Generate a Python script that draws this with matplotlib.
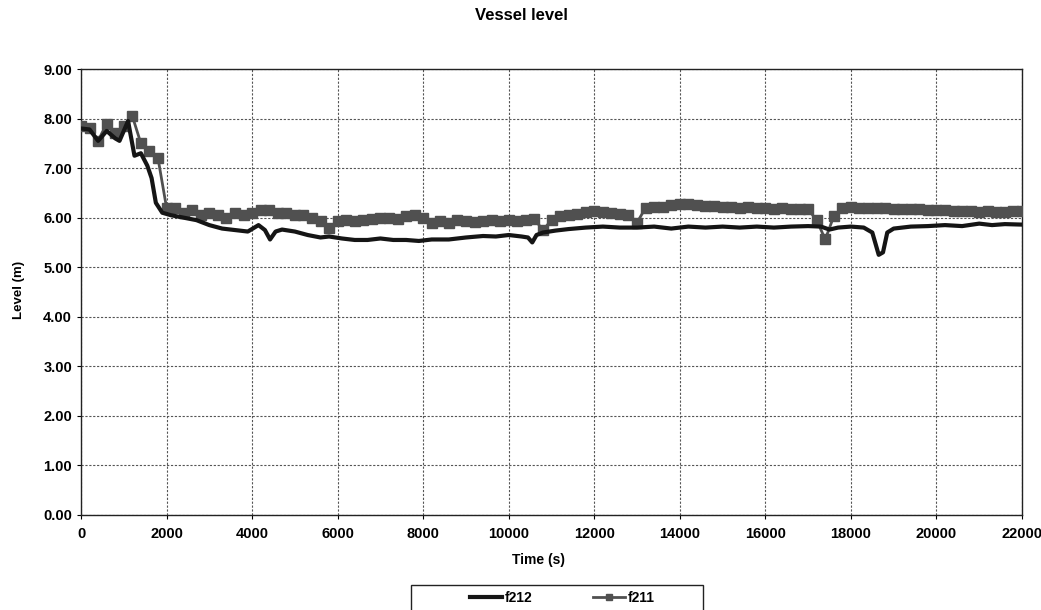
import matplotlib.pyplot as plt
import numpy as np
from matplotlib.patches import Rectangle

plt.rcParams['font.family'] = ['Liberation Sans', 'DejaVu Sans']

# f212 - solid line
t_f212 = [0, 200, 400, 600, 800, 900, 1100, 1250, 1400, 1550, 1650, 1750, 1900, 2100,
          2400, 2700, 3000, 3300, 3600, 3900, 4150, 4300, 4420, 4550, 4700, 5000, 5300,
          5600, 5800, 6100, 6400, 6700, 7000, 7300, 7600, 7900, 8200, 8600, 9000, 9400,
          9700, 10000, 10300, 10450, 10550, 10650, 10800, 11100, 11400, 11800, 12200,
          12600, 13000, 13400, 13800, 14200, 14600, 15000, 15400, 15800, 16200, 16600,
          17000, 17300, 17500, 17700, 18000, 18300, 18500, 18650, 18750, 18850, 19000,
          19400, 19800, 20200, 20600, 21000, 21300, 21600, 22000]
f212 = [7.80, 7.78, 7.55, 7.75, 7.60, 7.55, 7.95, 7.25, 7.30, 7.05, 6.80, 6.30, 6.10, 6.05,
        6.00, 5.95, 5.85, 5.78, 5.75, 5.72, 5.85, 5.75, 5.56, 5.72, 5.76, 5.72, 5.65,
        5.60, 5.62, 5.58, 5.55, 5.55, 5.58, 5.55, 5.55, 5.53, 5.56, 5.56, 5.60, 5.63,
        5.62, 5.65, 5.62, 5.60, 5.50, 5.65, 5.70, 5.74, 5.77, 5.80, 5.82,
        5.80, 5.80, 5.82, 5.78, 5.82, 5.80, 5.82, 5.80, 5.82, 5.80, 5.82,
        5.83, 5.82, 5.76, 5.80, 5.82, 5.80, 5.70, 5.25, 5.30, 5.70, 5.78,
        5.82, 5.83, 5.85, 5.83, 5.88, 5.85, 5.87, 5.86]

# f211 - line with square markers, sampled every 200 s
t_f211 = np.arange(0, 22001, 200)
f211 = [7.85, 7.80, 7.55, 7.90, 7.70, 7.85, 8.05, 7.50, 7.35, 7.20,   # 0-1800
        6.20, 6.20, 6.10, 6.15, 6.05, 6.10, 6.05, 6.00, 6.10, 6.05,   # 2000-3800
        6.10, 6.15, 6.15, 6.10, 6.10, 6.05, 6.05, 6.00, 5.93, 5.80,   # 4000-5800
        5.93, 5.95, 5.93, 5.95, 5.97, 6.00, 6.00, 5.97, 6.03, 6.05,   # 6000-7800
        6.00, 5.90, 5.93, 5.90, 5.95, 5.93, 5.92, 5.93, 5.95, 5.93,   # 8000-9800
        5.95, 5.93, 5.95, 5.97, 5.75, 5.95, 6.03, 6.05, 6.08, 6.12,   # 10000-11800
        6.14, 6.12, 6.10, 6.08, 6.05, 5.90, 6.20, 6.22, 6.22, 6.25,   # 12000-13800
        6.27, 6.27, 6.25, 6.24, 6.24, 6.22, 6.22, 6.20, 6.22, 6.20,   # 14000-15800
        6.20, 6.18, 6.20, 6.18, 6.18, 6.17, 5.95, 5.56, 6.03, 6.20,   # 16000-17800
        6.22, 6.20, 6.20, 6.20, 6.20, 6.18, 6.18, 6.17, 6.17, 6.15,   # 18000-19800
        6.15, 6.15, 6.13, 6.14, 6.13, 6.12, 6.13, 6.12, 6.12, 6.13,   # 20000-21800
        6.13]                                                         # 22000

x_ticks = np.arange(0, 22001, 2000)
y_ticks = np.arange(0, 9.01, 1.0)

fig = plt.figure(figsize=(10.41, 6.10), dpi=100)
ax = fig.add_axes([81 / 1041, 1 - 515 / 610, (1022 - 81) / 1041, (515 - 69) / 610])

ax.plot(t_f211, f211, color='#505050', lw=2, marker='s', ms=6.5,
        mfc='#505050', mec='#505050', label='f211', zorder=3)
ax.plot(t_f212, f212, color='#151515', lw=3, label='f212', zorder=4)

ax.set_xlim(0, 22000)
ax.set_ylim(0, 9)
ax.set_xticks(x_ticks)
ax.set_yticks(y_ticks)
ax.set_yticklabels(['%.2f' % v for v in y_ticks])
ax.tick_params(labelsize=10.5, length=3, width=0.8, direction='out')
ax.tick_params(axis='x', pad=6)
for lab in ax.get_xticklabels() + ax.get_yticklabels():
    lab.set_fontweight('bold')

ax.grid(True, color='#555555', lw=0.8, ls=(0, (2, 1.5)))
ax.set_axisbelow(True)
for s in ax.spines.values():
    s.set_color('#222222')
    s.set_linewidth(1.0)

fig.text(521 / 1041, 1 - 16 / 610, 'Vessel level', ha='center', va='center',
         fontsize=12, fontweight='bold')
fig.text(19 / 1041, 1 - 290 / 610, 'Level (m)', ha='center', va='center',
         rotation=90, fontsize=9.5, fontweight='bold')
fig.text(539 / 1041, 1 - 560 / 610, 'Time (s)', ha='center', va='center',
         fontsize=10, fontweight='bold')

# legend box (runs off the bottom edge as in the original)
fig.patches.append(Rectangle((411 / 1041, -0.02), (703 - 411) / 1041, (0.02 + 1 - 585 / 610),
                             transform=fig.transFigure, fill=False,
                             edgecolor='#222222', lw=1.0))
handles, labels = ax.get_legend_handles_labels()
leg = fig.legend(handles[::-1], labels[::-1], loc='center left',
                 bbox_to_anchor=(470 / 1041, 1 - 598 / 610), ncol=2,
                 fontsize=10, frameon=False, borderpad=0, borderaxespad=0,
                 handlelength=2.3, handletextpad=0.2, columnspacing=4.4,
                 markerscale=0.6)
for t in leg.get_texts():
    t.set_fontweight('bold')

fig.savefig('out.png', dpi=100)
